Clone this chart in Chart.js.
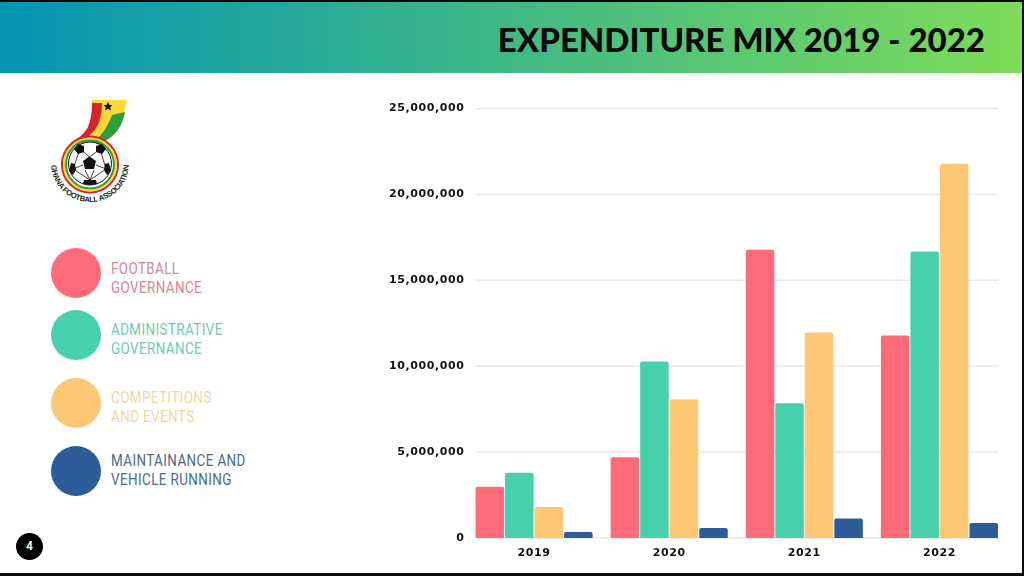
<!DOCTYPE html>
<html>
<head>
<meta charset="utf-8">
<title>Expenditure mix 2019 - 2022</title>
<script src="https://cdn.jsdelivr.net/npm/chart.js@4"></script>
<style>
    html, body { margin: 0; padding: 0; }
    body { width: 1024px; height: 576px; background: #0b0b0b; position: relative; overflow: hidden; }
    #slide { position: absolute; left: 0; top: 2px; width: 1022px; height: 571px; background: #fff; }
    #header {
        position: absolute; left: 0; top: 0; width: 100%; height: 71px;
        background: linear-gradient(90deg, #0495b5 0%, #7ddc58 100%);
    }
    #header h1 {
        position: absolute; right: 37px; top: 17px; margin: 0;
        font: 900 33px/40px Lato, sans-serif; color: #0a0a0a; white-space: nowrap;
    }
    #chartBox { position: absolute; left: 380px; top: 90px; width: 627px; height: 480px; }
    #logo { position: absolute; left: 40px; top: 96px; }
    .legendDot { position: absolute; left: 51px; width: 50px; height: 50px; border-radius: 50%; }
    .legendText {
        position: absolute; left: 111px; font: 400 17px/19px Roboto, sans-serif;
        letter-spacing: 0.5px; white-space: pre; transform: scaleX(0.79); transform-origin: left top;
    }
    #pageNo {
        position: absolute; left: 16px; top: 533px; width: 27px; height: 27px; border-radius: 50%;
        background: #000; color: #fff; text-align: center; font: 700 12px/27px Roboto, sans-serif;
    }
</style>
</head>
<body>
<div id="slide">
    <div id="header"><h1 id="title"></h1></div>
    <div id="chartBox"><canvas id="chart"></canvas></div>
</div>
<svg id="logo" width="100" height="112" viewBox="40 96 100 112">
    <path d="M92 100H127L124 113C120 126 112 135 102 140C94 144 84 145 78 151L73 150C82 141 92 138 95 128C98 120 98 110 98 104H92Z" fill="#fdd835"/>
    <path d="M92 103H102C102 118 98 128 90 135C84 140 78 142 73 148L70 146C76 139 84 135 88 127C91 120 92 111 92 103Z" fill="#d8232a"/>
    <path d="M125 112C123 124 117 134 107 140C99 145 89 146 80 152L78 150C86 146 94 142 100 136C106 129 110 120 112 115Z" fill="#2e9e3f"/>
    <polygon points="108,102 109.4,105 112.5,105.2 110.2,107.3 111,110.5 108,108.8 105,110.5 105.8,107.3 103.5,105.2 106.6,105" fill="#111"/>
    <circle cx="90" cy="164.5" r="28" fill="none" stroke="#d8232a" stroke-width="2"/>
    <circle cx="90" cy="164.5" r="26" fill="none" stroke="#fdd835" stroke-width="2"/>
    <circle cx="90" cy="164.5" r="24" fill="none" stroke="#2e9e3f" stroke-width="2"/>
    <circle cx="90" cy="163.5" r="21.5" fill="#fff" stroke="#111" stroke-width="1"/>
    <g stroke="#111" stroke-width="0.8" fill="none">
        <path d="M89.5 157L80 149M89.5 157L100 149M83 165L73 169M96 165L106 169M85 170L90 180M94 170L90 180M73 169L80 149M106 169L100 149M73 169L90 180M106 169L90 180"/>
    </g>
    <polygon points="89.5,156.5 96,161 94,169 85,169 83,161" fill="#111"/>
    <polygon points="78,144 84,146 84,152 78,154 74,149" fill="#111"/>
    <polygon points="102,144 96,146 96,152 102,154 106,149" fill="#111"/>
    <polygon points="71,163 75,164 76,170 73,175 69,171" fill="#111"/>
    <polygon points="109,163 105,164 104,170 107,175 111,171" fill="#111"/>
    <polygon points="84,180 96,180 97,184 90,185 83,184" fill="#111"/>
    <path id="logoArc" d="M51 163A39 39 0 0 0 129 163" fill="none"/>
    <text font-family="Liberation Sans" font-weight="700" font-size="7.6" fill="#222">
        <textPath href="#logoArc" startOffset="50%" text-anchor="middle" textLength="118">GHANA FOOTBALL ASSOCIATION</textPath>
    </text>
</svg>
<div id="pageNo">4</div>
<script>
const chartTitle = "EXPENDITURE MIX 2019 - 2022";
const years = ["2019", "2020", "2021", "2022"];
const footballGovernance = [2990000, 4700000, 16780000, 11790000];
const administrativeGovernance = [3800000, 10280000, 7840000, 16670000];
const competitionsAndEvents = [1800000, 8070000, 11960000, 21780000];
const maintainanceAndVehicle = [350000, 580000, 1130000, 870000];
const seriesLabels = [
    "FOOTBALL\nGOVERNANCE",
    "ADMINISTRATIVE\nGOVERNANCE",
    "COMPETITIONS\nAND EVENTS",
    "MAINTAINANCE AND\nVEHICLE RUNNING"
];
const seriesColors = ["#ff6b78", "#48d0ac", "#fdc873", "#2c5c9a"];
const legendTextColors = ["#d98492", "#6fcbb0", "#ecd9a0", "#4d6a8c"];
const legendDotTops = [248, 310, 378, 446];
const legendTextTops = [259, 320, 388, 451];
const yMax = 25000000;
const yStep = 5000000;

document.getElementById("title").textContent = chartTitle;

// legend on the left, circles and two line labels
seriesLabels.forEach(function (label, i) {
    let dot = document.createElement("div");
    dot.className = "legendDot";
    dot.style.top = legendDotTops[i] + "px";
    dot.style.backgroundColor = seriesColors[i];
    document.body.appendChild(dot);

    let text = document.createElement("div");
    text.className = "legendText";
    text.style.top = legendTextTops[i] + "px";
    text.style.color = legendTextColors[i];
    text.textContent = label;
    document.body.appendChild(text);
});

// gridlines only run from the first bar to the last one
const shortGrid = {
    id: "shortGrid",
    beforeDraw(chart) {
        // the axis labels in the picture are set wide
        chart.ctx.letterSpacing = "0.6px";
    },
    beforeDatasetsDraw(chart) {
        let first = chart.getDatasetMeta(0).data[0];
        let lastMeta = chart.getDatasetMeta(chart.data.datasets.length - 1);
        let last = lastMeta.data[lastMeta.data.length - 1];
        let left = first.x - first.width / 2;
        let right = last.x + last.width / 2;
        let y = chart.scales.y;
        let ctx = chart.ctx;
        ctx.save();
        ctx.strokeStyle = "#e9e9e9";
        ctx.lineWidth = 1.5;
        y.ticks.forEach(function (tick) {
            let py = y.getPixelForValue(tick.value);
            ctx.beginPath();
            ctx.moveTo(left, py);
            ctx.lineTo(right, py);
            ctx.stroke();
        });
        ctx.restore();
    }
};

const axisFont = { family: "'DejaVu Sans'", size: 11, weight: "bold" };

new Chart(document.getElementById("chart").getContext("2d"), {
    type: "bar",
    data: {
        labels: years,
        datasets: [
            { label: seriesLabels[0].replace("\n", " "), data: footballGovernance, backgroundColor: seriesColors[0] },
            { label: seriesLabels[1].replace("\n", " "), data: administrativeGovernance, backgroundColor: seriesColors[1] },
            { label: seriesLabels[2].replace("\n", " "), data: competitionsAndEvents, backgroundColor: seriesColors[2] },
            { label: seriesLabels[3].replace("\n", " "), data: maintainanceAndVehicle, backgroundColor: seriesColors[3] }
        ]
    },
    options: {
        responsive: true,
        maintainAspectRatio: false,
        animation: false,
        layout: { padding: { top: 16.5 } },
        datasets: {
            bar: { categoryPercentage: 0.874, barPercentage: 0.966, borderRadius: 2, borderSkipped: "bottom" }
        },
        plugins: {
            legend: { display: false },
            title: { display: false }
        },
        scales: {
            x: {
                grid: { display: false },
                border: { display: false },
                ticks: { color: "#111", font: axisFont, padding: 1, maxRotation: 0 },
                afterFit(scale) { scale.height = 34; }
            },
            y: {
                min: 0,
                max: yMax,
                grid: { display: false },
                border: { display: false },
                ticks: {
                    stepSize: yStep,
                    color: "#111",
                    font: axisFont,
                    padding: -6,
                    callback: function (v) { return v.toLocaleString("en-US"); }
                },
                afterFit(scale) { scale.width = 86.5; }
            }
        }
    },
    plugins: [shortGrid]
});
</script>
</body>
</html>
